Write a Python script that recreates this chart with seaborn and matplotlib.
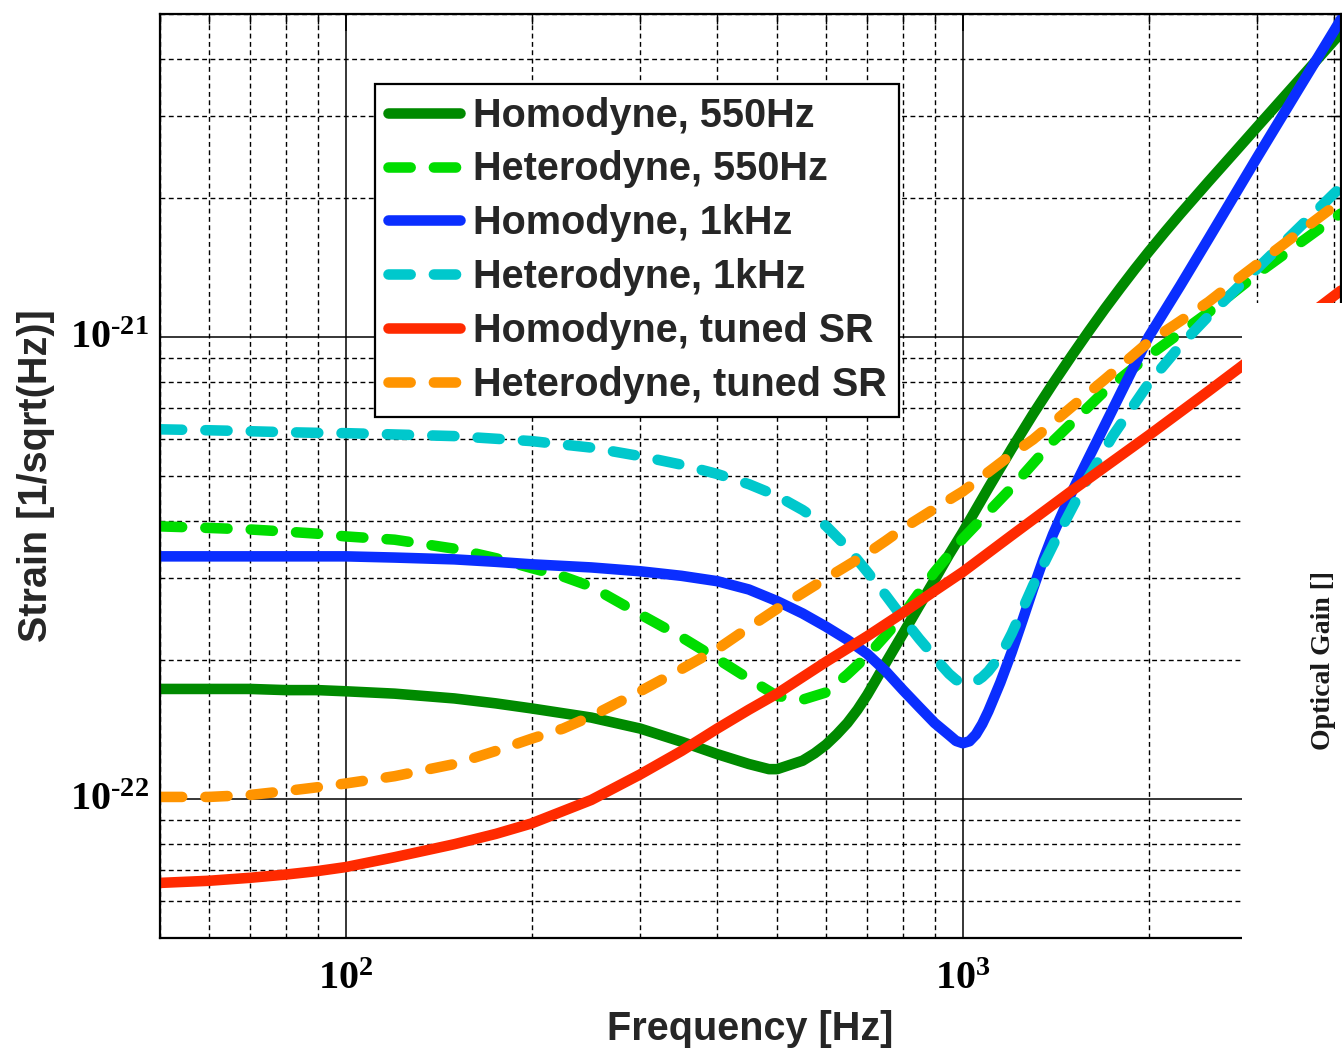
import numpy as np
import pandas as pd
import matplotlib
matplotlib.use("Agg")
import matplotlib.pyplot as plt
import matplotlib.transforms as mtransforms
import seaborn as sns
from matplotlib.ticker import FixedLocator, LogLocator, FuncFormatter, NullFormatter
from matplotlib.patches import Rectangle

# ---------------------------------------------------------------------------
# Strain sensitivity curves [1/sqrt(Hz)] versus frequency [Hz]
# ---------------------------------------------------------------------------
freq_hom_550 = [50, 60, 70, 80, 90, 100, 120, 150, 175, 200, 250, 300, 350, 400,
                450, 485, 500, 550, 575, 600, 625, 650, 675, 700, 725, 750, 800,
                850, 900, 950, 1000, 1100, 1200, 1300, 1400, 1500, 1600, 1700,
                1800, 1900, 2000, 2125, 2250, 2500, 2750, 3000, 3500, 4000, 4100]
strain_hom_550 = [1.73e-22, 1.73e-22, 1.73e-22, 1.72e-22, 1.72e-22, 1.71e-22,
                  1.69e-22, 1.65e-22, 1.61e-22, 1.57e-22, 1.50e-22, 1.42e-22,
                  1.33e-22, 1.25e-22, 1.19e-22, 1.16e-22, 1.16e-22, 1.21e-22,
                  1.255e-22, 1.31e-22, 1.38e-22, 1.46e-22, 1.56e-22, 1.68e-22,
                  1.82e-22, 1.97e-22, 2.28e-22, 2.62e-22, 2.98e-22, 3.38e-22,
                  3.78e-22, 4.71e-22, 5.73e-22, 6.81e-22, 7.93e-22, 9.09e-22,
                  1.029e-21, 1.152e-21, 1.276e-21, 1.402e-21, 1.528e-21, 1.686e-21,
                  1.845e-21, 2.167e-21, 2.50e-21, 2.85e-21, 3.59e-21, 4.39e-21, 4.55e-21]

freq_het_550 = [50, 60, 70, 80, 90, 100, 120, 150, 175, 200, 225, 250, 300, 350,
                400, 450, 500, 550, 600, 650, 700, 750, 800, 850, 900, 950, 1000,
                1100, 1200, 1400, 1700, 2000, 2500, 3000, 3500, 4000, 4100]
strain_het_550 = [3.89e-22, 3.86e-22, 3.83e-22, 3.79e-22, 3.75e-22, 3.70e-22,
                  3.64e-22, 3.48e-22, 3.32e-22, 3.16e-22, 3.03e-22, 2.88e-22,
                  2.51e-22, 2.24e-22, 2.01e-22, 1.82e-22, 1.67e-22, 1.64e-22,
                  1.70e-22, 1.86e-22, 2.04e-22, 2.26e-22, 2.50e-22, 2.80e-22,
                  3.10e-22, 3.38e-22, 3.66e-22, 4.18e-22, 4.72e-22, 5.95e-22,
                  7.65e-22, 9.10e-22, 1.13e-21, 1.37e-21, 1.59e-21, 1.81e-21, 1.85e-21]

freq_hom_1k = [50, 60, 70, 80, 90, 100, 120, 150, 175, 200, 250, 300, 350, 400,
               450, 500, 550, 600, 650, 700, 750, 800, 850, 900, 950, 975, 1000,
               1025, 1050, 1075, 1100, 1150, 1200, 1250, 1300, 1350, 1400, 1500,
               1600, 1800, 2000, 2250, 2500, 3000, 3500, 4000, 4100]
strain_hom_1k = [3.35e-22, 3.35e-22, 3.35e-22, 3.35e-22, 3.35e-22, 3.35e-22,
                 3.33e-22, 3.30e-22, 3.26e-22, 3.22e-22, 3.17e-22, 3.11e-22,
                 3.04e-22, 2.96e-22, 2.84e-22, 2.68e-22, 2.52e-22, 2.36e-22,
                 2.21e-22, 2.06e-22, 1.89e-22, 1.72e-22, 1.58e-22, 1.46e-22,
                 1.375e-22, 1.335e-22, 1.32e-22, 1.333e-22, 1.379e-22, 1.453e-22,
                 1.549e-22, 1.786e-22, 2.08e-22, 2.44e-22, 2.855e-22, 3.295e-22,
                 3.74e-22, 4.60e-22, 5.48e-22, 7.53e-22, 1.00e-21, 1.29e-21,
                 1.63e-21, 2.45e-21, 3.44e-21, 4.61e-21, 4.87e-21]

freq_het_1k = [50, 60, 70, 80, 90, 100, 120, 150, 175, 200, 250, 300, 350, 400,
               450, 500, 550, 600, 650, 700, 750, 800, 850, 900, 925, 950, 975,
               1000, 1025, 1050, 1075, 1100, 1150, 1200, 1300, 1430, 1575, 1750,
               2000, 2250, 2500, 3000, 3500, 4000, 4100]
strain_het_1k = [6.31e-22, 6.28e-22, 6.25e-22, 6.22e-22, 6.20e-22, 6.19e-22,
                 6.15e-22, 6.10e-22, 6.02e-22, 5.95e-22, 5.76e-22, 5.52e-22,
                 5.29e-22, 5.05e-22, 4.80e-22, 4.53e-22, 4.22e-22, 3.90e-22,
                 3.50e-22, 3.10e-22, 2.76e-22, 2.46e-22, 2.22e-22, 2.03e-22,
                 1.94e-22, 1.865e-22, 1.81e-22, 1.78e-22, 1.775e-22, 1.795e-22,
                 1.835e-22, 1.89e-22, 2.04e-22, 2.28e-22, 2.90e-22, 3.75e-22,
                 4.80e-22, 6.11e-22, 7.93e-22, 9.57e-22, 1.109e-21, 1.407e-21,
                 1.72e-21, 2.047e-21, 2.11e-21]

freq_hom_sr = [50, 60, 70, 80, 90, 100, 120, 150, 175, 200, 250, 300, 350, 400,
               450, 500, 600, 700, 800, 900, 1000, 1200, 1500, 2000, 2500, 2800, 4100]
strain_hom_sr = [6.58e-23, 6.65e-23, 6.75e-23, 6.86e-23, 6.98e-23, 7.12e-23,
                 7.48e-23, 7.98e-23, 8.40e-23, 8.85e-23, 9.95e-23, 1.13e-22,
                 1.27e-22, 1.42e-22, 1.56e-22, 1.69e-22, 1.98e-22, 2.25e-22,
                 2.53e-22, 2.82e-22, 3.10e-22, 3.72e-22, 4.64e-22, 6.12e-22,
                 7.63e-22, 8.55e-22, 1.26e-21]

freq_het_sr = [50, 60, 70, 80, 90, 100, 120, 150, 175, 200, 225, 250, 300, 350,
               400, 450, 500, 550, 600, 650, 700, 750, 800, 900, 1000, 1100, 1200,
               1300, 1500, 1700, 2000, 2200, 2500, 2800, 3150, 3500, 4000, 4100]
strain_het_sr = [1.01e-22, 1.01e-22, 1.02e-22, 1.04e-22, 1.06e-22, 1.08e-22,
                 1.12e-22, 1.19e-22, 1.27e-22, 1.35e-22, 1.42e-22, 1.51e-22,
                 1.71e-22, 1.91e-22, 2.11e-22, 2.35e-22, 2.58e-22, 2.79e-22,
                 3.00e-22, 3.20e-22, 3.40e-22, 3.62e-22, 3.85e-22, 4.25e-22,
                 4.63e-22, 5.10e-22, 5.57e-22, 6.00e-22, 7.05e-22, 8.10e-22,
                 9.75e-22, 1.06e-21, 1.19e-21, 1.34e-21, 1.51e-21, 1.68e-21,
                 1.92e-21, 2.00e-21]

series_labels = ["Homodyne, 550Hz", "Heterodyne, 550Hz", "Homodyne, 1kHz",
                 "Heterodyne, 1kHz", "Homodyne, tuned SR", "Heterodyne, tuned SR"]
series_freqs = [freq_hom_550, freq_het_550, freq_hom_1k, freq_het_1k,
                freq_hom_sr, freq_het_sr]
series_strains = [strain_hom_550, strain_het_550, strain_hom_1k, strain_het_1k,
                  strain_hom_sr, strain_het_sr]
series_colors = ["#008a00", "#00dd00", "#0a2eff", "#00c8cc", "#ff2a00", "#ff9400"]
series_dashed = [False, True, False, True, False, True]

x_tick_values = [1e2, 1e3]
y_tick_values = [1e-22, 1e-21]

# ---------------------------------------------------------------------------
sns.set_theme(style="white")
plt.rcParams["font.family"] = ["Liberation Sans", "DejaVu Sans"]
plt.rcParams["mathtext.fontset"] = "custom"
plt.rcParams["mathtext.rm"] = "Liberation Serif:bold"
plt.rcParams["mathtext.it"] = "Liberation Serif:bold"
plt.rcParams["mathtext.bf"] = "Liberation Serif:bold"

W, H = 1342, 1048
fig = plt.figure(figsize=(W / 100, H / 100), dpi=100)
fig.patch.set_facecolor("white")
ax = fig.add_axes([160 / W, 1 - 938 / H, (1341 - 160) / W, (938 - 14) / H])

df = pd.concat(
    [pd.DataFrame({"freq": f, "strain": s, "curve": lab})
     for f, s, lab in zip(series_freqs, series_strains, series_labels)],
    ignore_index=True)

for lab, col, dashed in zip(series_labels, series_colors, series_dashed):
    sub = df[df["curve"] == lab]
    sns.lineplot(data=sub, x="freq", y="strain", color=col, linewidth=7.6,
                 label=lab, ax=ax, sort=False, estimator=None)
    line = ax.lines[-1]
    line.set_solid_capstyle("round")
    line.set_solid_joinstyle("round")
    line.set_dash_capstyle("round")
    line.set_dash_joinstyle("round")
    if dashed:
        line.set_dashes([2.1, 2.2])

ax.set_xscale("log")
ax.set_yscale("log")
ax.set_xlim(50, 4100)
ax.set_ylim(5e-23, 5e-21)

def pow10_label(v, pos):
    e = int(round(np.log10(v)))
    sign = r"\text{-}" if e < 0 else ""
    return r"$\mathrm{10^{%s%d}}$" % (sign, abs(e))

ax.xaxis.set_major_locator(FixedLocator(x_tick_values))
ax.yaxis.set_major_locator(FixedLocator(y_tick_values))
ax.xaxis.set_minor_locator(LogLocator(base=10, subs=np.arange(2, 10) * 1.0, numticks=30))
ax.yaxis.set_minor_locator(LogLocator(base=10, subs=np.arange(2, 10) * 1.0, numticks=30))
ax.xaxis.set_major_formatter(FuncFormatter(pow10_label))
ax.yaxis.set_major_formatter(FuncFormatter(pow10_label))
ax.xaxis.set_minor_formatter(NullFormatter())
ax.yaxis.set_minor_formatter(NullFormatter())

ax.tick_params(which="both", direction="in", top=True, right=True, colors="black",
               labelsize=29)
ax.tick_params(which="major", length=12, width=1.2)
ax.tick_params(which="minor", length=7, width=1.0)
ax.tick_params(axis="x", which="major", pad=15)
ax.tick_params(axis="y", which="major", pad=8)

# exponent labels on the strain axis sit slightly above their grid line
lift = mtransforms.ScaledTranslation(0, 4 / 100, fig.dpi_scale_trans)
for lbl in ax.get_yticklabels():
    lbl.set_transform(lbl.get_transform() + lift)

ax.set_axisbelow(True)
ax.grid(True, which="major", color="black", linestyle="-", linewidth=1.1)
ax.grid(True, which="minor", color="black", linestyle=(0, (3.5, 2.5)), linewidth=1.0)

for sp in ax.spines.values():
    sp.set_color("black")
    sp.set_linewidth(1.6)

label_font = {"family": "Liberation Sans", "weight": "bold", "size": 28.5}
ax.set_xlabel("Frequency [Hz]", fontdict=label_font)
ax.set_ylabel("Strain [1/sqrt(Hz)]", fontdict=label_font)
ax.xaxis.set_label_coords(0.5, -0.078)
ax.yaxis.set_label_coords(-0.0885, 0.5)

leg = ax.legend(loc="upper left", bbox_to_anchor=(375 / W, 1 - 84 / H),
                bbox_transform=fig.transFigure, borderaxespad=0,
                prop={"family": "Liberation Sans", "weight": "bold", "size": 28.5},
                frameon=True, fancybox=False, framealpha=1, edgecolor="black",
                borderpad=0.32, labelspacing=0.40, handlelength=1.82,
                handletextpad=0.33)
leg.get_frame().set_linewidth(1.6)

# panel of a neighbouring figure that overlaps the lower right corner
fig.add_artist(Rectangle((1242 / W, 0), 1 - 1242 / W, 1 - 303 / H,
                         transform=fig.transFigure, facecolor="white",
                         edgecolor="none", zorder=10))
fig.text(1323 / W, 1 - 661 / H, "Optical Gain []", rotation=90, ha="center",
         va="center", family="Liberation Serif", weight="bold", size=20,
         color="#1a1a1a", zorder=11)

fig.savefig("out.png", dpi=100, facecolor="white")
